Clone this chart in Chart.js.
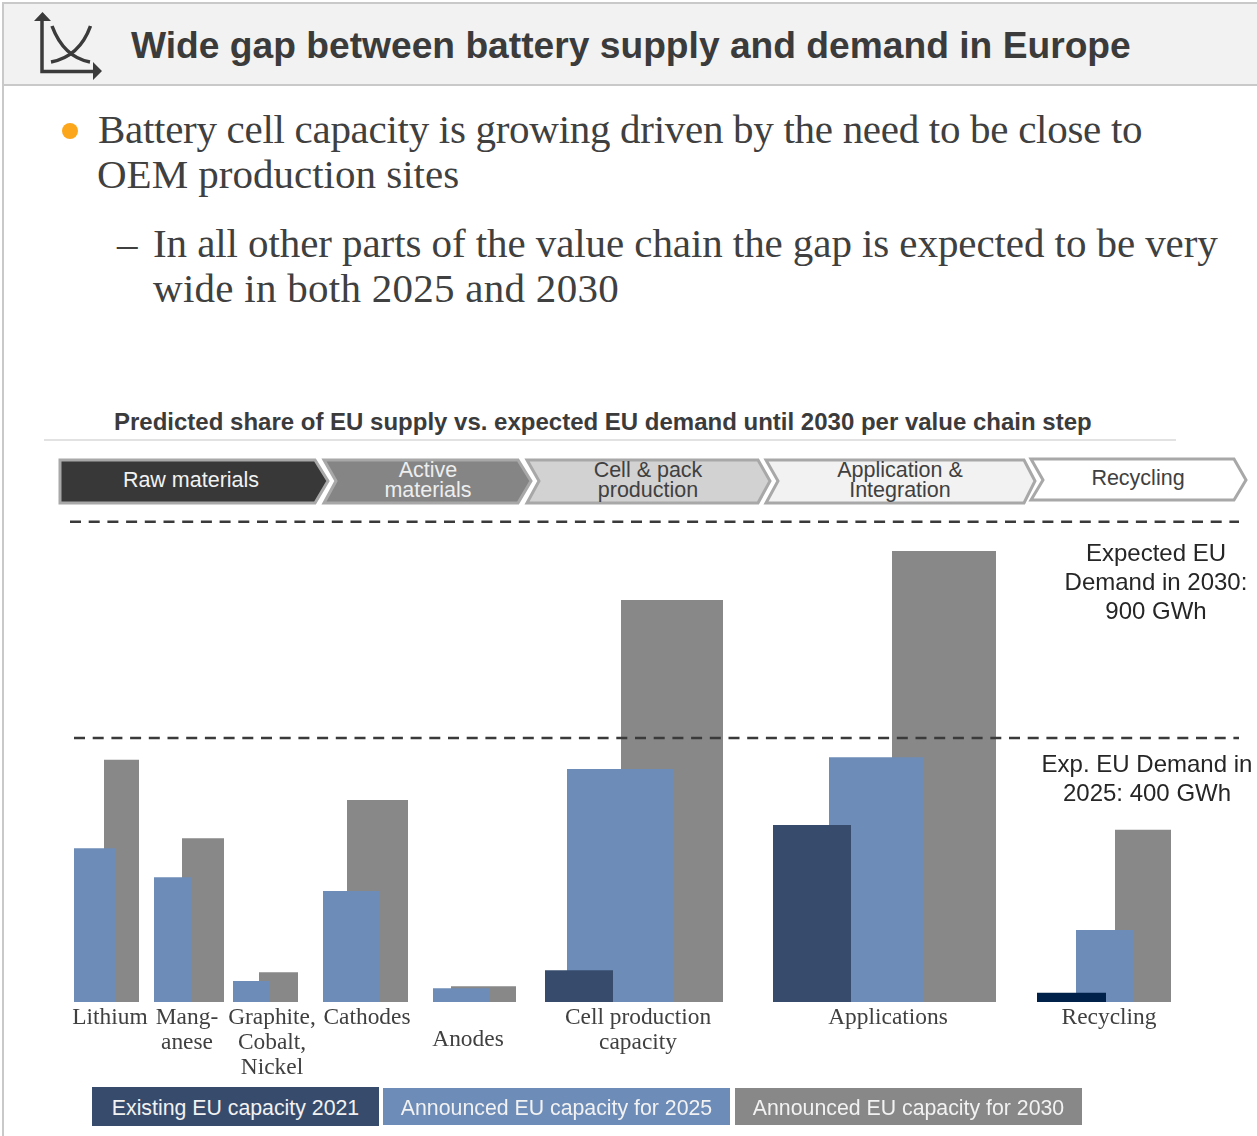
<!DOCTYPE html>
<html>
<head>
<meta charset="utf-8">
<title>Wide gap between battery supply and demand in Europe</title>
<script src="https://cdn.jsdelivr.net/npm/chart.js@4"></script>
<style>
  html, body { margin: 0; padding: 0; width: 1257px; height: 1136px; overflow: hidden; background: #fff; }
  body { position: relative; color: #404040; font-family: "Liberation Sans", Arial, sans-serif; }
  .frame-left { position: absolute; left: 2px; top: 2px; width: 2px; height: 1134px; background: #c9c9c9; }
  .banner { position: absolute; left: 2px; top: 2px; width: 1255px; height: 84px; box-sizing: border-box;
            background: #f2f2f2; border: solid #c9c9c9; border-width: 2px 0 2px 2px; }
  .t { position: absolute; white-space: nowrap; line-height: 1; }
  .title { left: 131px; top: 27px; font-size: 37.2px; font-weight: bold; color: #3b3b3b; }
  .body-text { font-family: "Liberation Serif", serif; font-size: 41px; color: #404040; }
  .subtitle { left: 114px; top: 410px; font-size: 24px; font-weight: bold; color: #3b3b3b; }
  .rule { position: absolute; left: 44px; top: 439px; width: 1132px; height: 2px; background: #e2e2e2; }
  .note { position: absolute; text-align: center; font-size: 24px; line-height: 29px; color: #262626; white-space: nowrap; }
  .key { position: absolute; height: 37px; line-height: 41px; text-align: center; color: #f2f2f2; font-size: 21.3px; white-space: nowrap; }
  #art { position: absolute; left: 0; top: 0; }
  #chart { position: absolute; left: 0; top: 500px; }
</style>
</head>
<body>
<div class="banner"></div>
<div class="frame-left"></div>

<svg id="art" width="1257" height="520" xmlns="http://www.w3.org/2000/svg">
  <!-- header icon -->
  <g fill="none" stroke="#3b3b3b" stroke-width="3.5">
    <path d="M42 17V71.5H96"/>
    <path d="M52 26C58 42 68 58 90 62"/>
    <path d="M51 62C72 58 84 44 90.500 26"/>
  </g>
  <path d="M42.500 12L51 21H34Z M102 71L93 62V80Z" fill="#3b3b3b"/>
  <circle cx="70" cy="131" r="8" fill="#fca61c"/>

  <!-- value chain steps -->
  <g stroke="#a8a8a8" stroke-width="3" stroke-linejoin="miter">
    <path d="M60 460H315L328 481L315 503H60Z" fill="#383838"/>
    <path d="M324 460H518L531 481L518 503H324L336 481Z" fill="#858585"/>
    <path d="M527 460H758L770 481L758 503H527L539 481Z" fill="#d2d2d2"/>
    <path d="M766 460H1024L1035 481L1024 503H766L778 481Z" fill="#f2f2f2"/>
    <path d="M1031 459H1234L1246 480L1234 500H1031L1043 480Z" fill="#ffffff"/>
  </g>
  <g font-family="Liberation Sans, Arial, sans-serif" font-size="21.500" text-anchor="middle">
    <text x="191" y="487" fill="#f2f2f2">Raw materials</text>
    <text x="428" y="477" fill="#eeeeee">Active</text>
    <text x="428" y="497" fill="#eeeeee">materials</text>
    <text x="648" y="477" fill="#404040">Cell &amp; pack</text>
    <text x="648" y="497" fill="#404040">production</text>
    <text x="900" y="477" fill="#404040">Application &amp;</text>
    <text x="900" y="497" fill="#404040">Integration</text>
    <text x="1138" y="485" fill="#404040">Recycling</text>
  </g>
</svg>

<div class="t title">Wide gap between battery supply and demand in Europe</div>
<div class="t body-text" style="left:98px;top:109px;letter-spacing:-0.29px">Battery cell capacity is growing driven by the need to be close to</div>
<div class="t body-text" style="left:97px;top:154px">OEM production sites</div>
<div class="t body-text" style="left:117px;top:223px">–</div>
<div class="t body-text" style="left:153px;top:223px;letter-spacing:-0.08px">In all other parts of the value chain the gap is expected to be very</div>
<div class="t body-text" style="left:153px;top:268px;letter-spacing:0.27px">wide in both 2025 and 2030</div>
<div class="t subtitle">Predicted share of EU supply vs. expected EU demand until 2030 per value chain step</div>
<div class="rule"></div>

<canvas id="chart" width="1257" height="636"></canvas>

<div class="note" style="left:1056px;width:200px;top:538px">Expected EU<br>Demand in 2030:<br>900 GWh</div>
<div class="note" style="left:1037px;width:220px;top:749px">Exp. EU Demand in<br>2025: 400 GWh</div>

<div class="key" style="left:92px;top:1087px;width:287px;height:39px;line-height:43px;background:#374c6d">Existing EU capacity 2021</div>
<div class="key" style="left:383px;top:1088px;width:347px;background:#6e8cb8">Announced EU capacity for 2025</div>
<div class="key" style="left:735px;top:1088px;width:347px;background:#888888">Announced EU capacity for 2030</div>

<script>
// Capacity per value chain step, GWh equivalent
const categories = ['Lithium', 'Manganese', 'Graphite', 'Cathodes', 'Anodes', 'Cell production', 'Applications', 'Recycling'];
const capacity2021 = [null, null, null, null, null, 48, 268, 14];
const capacity2025 = [233, 189, 32, 168, 21, 353, 371, 109];
const capacity2030 = [367, 248, 45, 306, 24, 719, 832, 261];

const demandLevels = [900, 400];

// Axis labels, one inner array per line
const tickLabels = [
    ['Lithium'],
    ['Mang-', 'anese'],
    ['Graphite,', 'Cobalt,', 'Nickel'],
    ['Cathodes'],
    ['', 'Anodes'],
    ['Cell production', 'capacity'],
    ['Applications'],
    ['Recycling']
];

// Layout: where things sit along the x axis, which runs in page units
const tickPositions = [110, 187, 272, 367, 468, 638, 888, 1109];
const spans2021 = [null, null, null, null, null, [545, 613], [773, 851], [1037, 1106]];
const spans2025 = [[74, 115], [154, 192], [233, 270], [323, 380], [433, 490], [567, 673], [829, 923], [1076, 1133]];
const spans2030 = [[104, 139], [182, 224], [259, 298], [347, 408], [451, 516], [621, 723], [892, 996], [1115, 1171]];
const demandSpans = [[70, 1239], [74, 1239]];

const DARK = '#374c6d';
const DARKEST = '#00214a';
const BLUE = '#6e8cb8';
const GREY = '#888888';
const INK = '#3a3a3a';

// Bars with their own left and right edge instead of an evenly spaced slot
class SpanBarController extends Chart.BarController {
    static id = 'spanBar';
    static defaults = Chart.BarController.defaults;

    _calculateBarIndexPixels(index) {
        const xScale = this.chart.scales.x;
        const [left, right] = this.getDataset().spans[index];
        const a = xScale.getPixelForValue(left);
        const b = xScale.getPixelForValue(right);
        return { base: a, head: b, center: (a + b) / 2, size: b - a };
    }
}

// The value axis is not proportional: it changes slope at the 2025 demand level
class DemandScale extends Chart.LinearScale {
    static id = 'demand';
    static defaults = Chart.LinearScale.defaults;

    getPixelForValue(value) {
        if (value === null) return NaN;
        const { kneeValue, kneeShare } = this.options;
        const decimal = value <= kneeValue
            ? value / kneeValue * kneeShare
            : kneeShare + (value - kneeValue) / (this.max - kneeValue) * (1 - kneeShare);
        return this.getPixelForDecimal(decimal);
    }
}

Chart.register(SpanBarController, DemandScale);

function barPoints(values, spans) {
    const points = [];
    const keptSpans = [];
    values.forEach((value, i) => {
        if (value === null) return;
        points.push({ x: (spans[i][0] + spans[i][1]) / 2, y: value });
        keptSpans.push(spans[i]);
    });
    return { data: points, spans: keptSpans };
}

const demandLines = demandLevels.map((level, i) => ({
    type: 'line',
    data: demandSpans[i].map(x => ({ x: x, y: level })),
    borderColor: INK,
    borderWidth: 2.5,
    borderDash: [11, 7.7],
    pointRadius: 0,
    clip: false,
    order: 0
}));

new Chart(document.getElementById('chart'), {
    type: 'spanBar',
    data: {
        datasets: [
            ...demandLines,
            {
                label: 'Existing EU capacity 2021',
                ...barPoints(capacity2021, spans2021),
                backgroundColor: [DARK, DARK, DARKEST],
                order: 1
            },
            {
                label: 'Announced EU capacity for 2025',
                ...barPoints(capacity2025, spans2025),
                backgroundColor: BLUE,
                order: 2
            },
            {
                label: 'Announced EU capacity for 2030',
                ...barPoints(capacity2030, spans2030),
                backgroundColor: GREY,
                order: 3
            }
        ]
    },
    options: {
        responsive: false,
        animation: false,
        events: [],
        layout: { padding: 0 },
        plugins: { legend: { display: false }, tooltip: { enabled: false } },
        scales: {
            x: {
                type: 'linear',
                min: 0,
                max: 1257,
                offset: false,
                grid: { display: false, drawTicks: false, offset: false },
                border: { display: false },
                afterBuildTicks: scale => {
                    scale.ticks = tickPositions.map(value => ({ value: value }));
                },
                afterFit: scale => {
                    scale.height = 134;
                },
                ticks: {
                    autoSkip: false,
                    maxRotation: 0,
                    minRotation: 0,
                    padding: 3,
                    color: '#404040',
                    // Anodes sits a little higher than a full second line
                    font: ctx => ({
                        family: '"Liberation Serif", serif',
                        size: 23.4,
                        lineHeight: ctx.index === 4 ? 23.5 / 23.4 : 25 / 23.4
                    }),
                    callback: (value, i) => tickLabels[i]
                }
            },
            y: {
                type: 'demand',
                display: false,
                min: 0,
                max: 950,
                kneeValue: 400,
                kneeShare: 264 / 502
            }
        }
    }
});
</script>
</body>
</html>
